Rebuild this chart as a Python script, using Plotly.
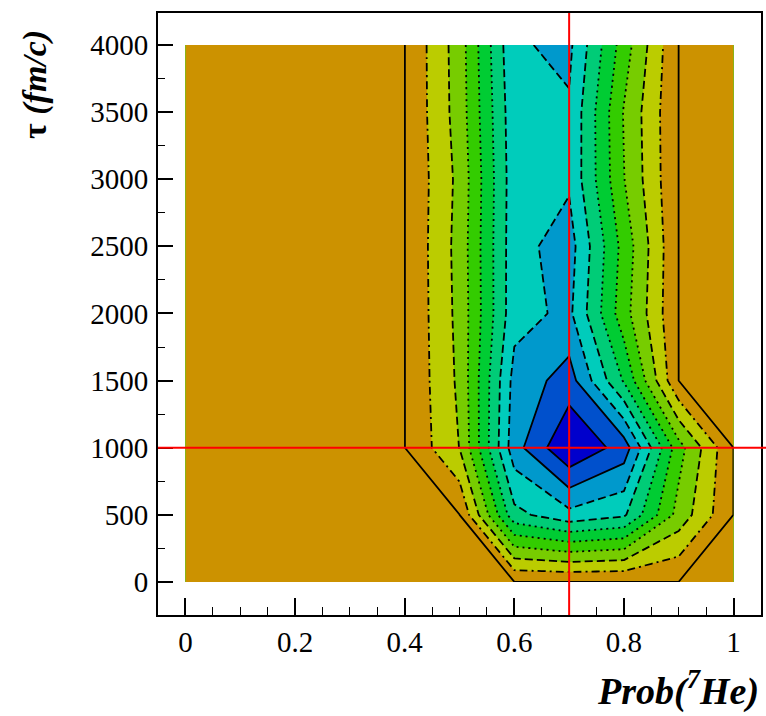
import plotly.graph_objects as go

# ---- data (grid nodes) ----
x_vals = [0.0, 0.1, 0.2, 0.3, 0.4, 0.5, 0.6, 0.7, 0.8, 0.9, 1.0]
y_vals = [0, 500, 1000, 1500, 2000, 2500, 3000, 3500, 4000]

z_y0    = [10, 10, 10, 10, 10, 10,   10,   10,   10,   10,   10]
z_y500  = [10, 10, 10, 10, 10, 10,   4.3,  3.3,  3.85, 7.37, 10]
z_y1000 = [10, 10, 10, 10, 10, 7.98, 2.4,  0.05, 1.44, 6.6,  10]
z_y1500 = [10, 10, 10, 10, 10, 7.8,  2.65, 1.55, 5.1,  10,   10]
z_y2000 = [10, 10, 10, 10, 10, 7.7,  3.34, 2.78, 6.6,  10,   10]
z_y2500 = [10, 10, 10, 10, 10, 7.64, 3.36, 2.55, 6.37, 10,   10]
z_y3000 = [10, 10, 10, 10, 10, 7.73, 3.39, 3.15, 6.97, 10,   10]
z_y3500 = [10, 10, 10, 10, 10, 7.55, 3.32, 3.12, 7.07, 10,   10]
z_y4000 = [10, 10, 10, 10, 10, 7.5,  3.12, 2.78, 6.5,  10,   10]

z_rows = [z_y0, z_y500, z_y1000, z_y1500, z_y2000, z_y2500, z_y3000, z_y3500, z_y4000]

fill_start, fill_end, fill_step = 1, 9, 1
band_colors = ["#0000cc", "#0050cc", "#0099cc", "#00ccbb", "#00cc77",
               "#00cc33", "#33cc00", "#77cc00", "#bbcc00", "#cc9200"]

line_levels = [1, 2, 3, 4, 5, 6, 7, 8, 9, 9.99]
line_dashes = ["solid", "solid", "8px,4px", "8px,4px", "2px,4px", "2px,4px",
               "2px,4px", "8px,4px", "8px,4px,2px,4px", "solid"]

best_x = 0.7
best_y = 1000

x_tick_vals = [0, 0.2, 0.4, 0.6, 0.8, 1.0]
x_tick_text = ["0", "0.2", "0.4", "0.6", "0.8", "1"]
y_tick_vals = [0, 500, 1000, 1500, 2000, 2500, 3000, 3500, 4000]
y_tick_text = ["0", "500", "1000", "1500", "2000", "2500", "3000", "3500", "4000"]

# ---- figure ----
n_b = len(band_colors) - 1
colorscale = [[i / n_b, c] for i, c in enumerate(band_colors)]

fig = go.Figure()
fig.add_trace(go.Contour(
    x=x_vals, y=y_vals, z=z_rows,
    autocontour=False,
    contours=dict(start=fill_start, end=fill_end, size=fill_step,
                  coloring="fill", showlines=False),
    colorscale=colorscale, showscale=False,
    line=dict(width=0, smoothing=0),
    hoverinfo="skip",
))

for lev, dsh in zip(line_levels, line_dashes):
    fig.add_trace(go.Contour(
        x=x_vals, y=y_vals, z=z_rows,
        contours=dict(type="constraint", operation="=", value=lev),
        line=dict(color="black", width=1.8, dash=dsh, smoothing=0),
        showscale=False, hoverinfo="skip", showlegend=False,
    ))

serif = "Liberation Serif, Times New Roman, serif"

fig.add_shape(type="line", xref="x", yref="paper", x0=best_x, x1=best_x,
              y0=0, y1=1, line=dict(color="red", width=2))
fig.add_shape(type="line", xref="paper", yref="y", x0=0, x1=1.01,
              y0=best_y, y1=best_y, line=dict(color="red", width=2))

fig.add_annotation(text="<b><i>Prob(<sup>7</sup>He)</i></b>", xref="paper", yref="paper",
                   x=1.0, y=-0.122, xanchor="right", yanchor="middle",
                   showarrow=False, font=dict(family=serif, size=38, color="black"))
fig.add_annotation(text="<b>τ</b><b><i> (fm/c)</i></b>", xref="paper", yref="paper",
                   x=-0.205, y=0.975, xanchor="center", yanchor="top", textangle=-90,
                   showarrow=False, font=dict(family=serif, size=34, color="black"))

fig.update_layout(
    width=766, height=716, autosize=False,
    margin=dict(l=158, r=3, t=13, b=101),
    paper_bgcolor="white", plot_bgcolor="white",
    showlegend=False,
    font=dict(family=serif, size=28, color="black"),
    xaxis=dict(range=[-0.05, 1.05], tickvals=x_tick_vals, ticktext=x_tick_text,
               ticks="inside", ticklen=17, tickwidth=1.5, tickcolor="black",
               minor=dict(dtick=0.05, ticks="inside", ticklen=8, tickwidth=1.2, tickcolor="black"),
               showgrid=False, zeroline=False, showline=True, linewidth=2,
               linecolor="black", mirror=True, ticklabelstandoff=0,
               tickfont=dict(family=serif, size=29, color="black")),
    yaxis=dict(range=[-246, 4238], tickvals=y_tick_vals, ticktext=y_tick_text,
               ticks="inside", ticklen=15, tickwidth=1.5, tickcolor="black",
               minor=dict(dtick=250, ticks="inside", ticklen=7, tickwidth=1.2, tickcolor="black"),
               showgrid=False, zeroline=False, showline=True, linewidth=2,
               linecolor="black", mirror=True, ticklabelstandoff=2,
               tickfont=dict(family=serif, size=29, color="black")),
)

fig.write_html("out.html", config={"displayModeBar": False},
               post_script="document.body.style.margin='0px';")
